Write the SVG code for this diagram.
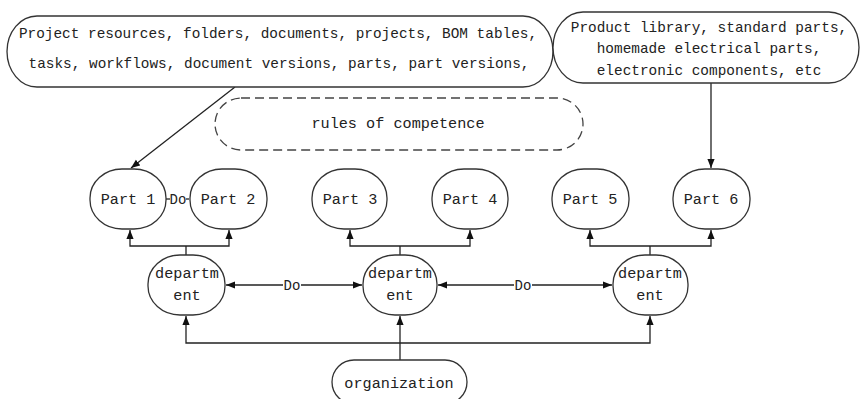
<svg xmlns="http://www.w3.org/2000/svg" width="861" height="399" viewBox="0 0 861 399">
<defs>
<marker id="ah" viewBox="0 0 10 10" refX="10" refY="5" markerWidth="9" markerHeight="9" markerUnits="userSpaceOnUse" orient="auto-start-reverse">
<path d="M0,1 L10,5 L0,9 z" fill="#111"/>
</marker>
</defs>
<style>
.n{fill:#fff;stroke:#333;stroke-width:1.3}
.d{fill:none;stroke:#444;stroke-width:1.3;stroke-dasharray:9,5}
.t{font-family:"Liberation Mono","DejaVu Sans Mono",monospace;font-size:15.2px;fill:#222;text-anchor:middle}
.b{font-family:"Liberation Mono","DejaVu Sans Mono",monospace;font-size:14.4px;fill:#222;text-anchor:middle}
.c{fill:none;stroke:#222;stroke-width:1.3}
.a{marker-end:url(#ah)}
.ab{marker-start:url(#ah);marker-end:url(#ah)}
.lb{font-family:"Liberation Mono","DejaVu Sans Mono",monospace;font-size:14px;fill:#222;text-anchor:middle}
</style>
<rect width="861" height="399" fill="#fff"/>
<g id="connectors">
<path class="c a" d="M235,87 L131,168"/>
<path class="c a" d="M711,83 L711,168"/>
<path class="c" d="M166,199 L189,199"/>
<rect x="170" y="191" width="16" height="16" fill="#fff"/>
<text class="lb" x="178" y="204">Do</text>
<path class="c" d="M186,255 L186,246"/>
<path class="c a" d="M186,246 L130,246 L130,230"/>
<path class="c a" d="M186,246 L229,246 L229,230"/>
<path class="c" d="M400,255 L400,246"/>
<path class="c a" d="M400,246 L350,246 L350,230"/>
<path class="c a" d="M400,246 L470,246 L470,230"/>
<path class="c" d="M650,255 L650,246"/>
<path class="c a" d="M650,246 L590,246 L590,230"/>
<path class="c a" d="M650,246 L711,246 L711,230"/>
<path class="c ab" d="M226,285 L362,285"/>
<rect x="283" y="277" width="18" height="16" fill="#fff"/>
<text class="lb" x="292" y="290">Do</text>
<path class="c ab" d="M438,285 L612,285"/>
<rect x="514" y="277" width="18" height="16" fill="#fff"/>
<text class="lb" x="523" y="290">Do</text>
<path class="c a" d="M400,360 L400,316"/>
<path class="c a" d="M400,343 L186,343 L186,316"/>
<path class="c a" d="M400,343 L650,343 L650,316"/>
</g>
<g id="resources">
<rect class="n" x="7" y="16" width="546" height="71" rx="30" ry="35.5"/>
<text class="b" x="278" y="38">Project resources, folders, documents, projects, BOM tables,</text>
<text class="b" x="279" y="68">tasks, workflows, document versions, parts, part versions,</text>
</g>
<g id="library">
<rect class="n" x="553" y="12" width="306" height="71" rx="30" ry="35.5"/>
<text class="b" x="709" y="32">Product library, standard parts,</text>
<text class="b" x="709" y="53">homemade electrical parts,</text>
<text class="b" x="709" y="75">electronic components, etc</text>
</g>
<g id="rules">
<rect class="d" x="215" y="98" width="368" height="52" rx="26" ry="26"/>
<text class="t" x="398" y="128">rules of competence</text>
</g>
<g id="part1">
<rect class="n" x="90" y="169" width="76" height="60" rx="32" ry="29"/>
<text class="t" x="128" y="204">Part 1</text>
</g>
<g id="part2">
<rect class="n" x="190" y="169" width="77" height="60" rx="32" ry="29"/>
<text class="t" x="228" y="204">Part 2</text>
</g>
<g id="part3">
<rect class="n" x="312" y="169" width="75" height="60" rx="32" ry="29"/>
<text class="t" x="350" y="204">Part 3</text>
</g>
<g id="part4">
<rect class="n" x="432" y="169" width="76" height="60" rx="32" ry="29"/>
<text class="t" x="470" y="204">Part 4</text>
</g>
<g id="part5">
<rect class="n" x="552" y="169" width="77" height="60" rx="32" ry="29"/>
<text class="t" x="590" y="204">Part 5</text>
</g>
<g id="part6">
<rect class="n" x="673" y="169" width="77" height="60" rx="32" ry="29"/>
<text class="t" x="711" y="204">Part 6</text>
</g>
<g id="dept1">
<rect class="n" x="148" y="255" width="77" height="60" rx="32" ry="29"/>
<text class="t" x="187" y="278">departm</text>
<text class="t" x="187" y="300">ent</text>
</g>
<g id="dept2">
<rect class="n" x="363" y="255" width="74" height="60" rx="32" ry="29"/>
<text class="t" x="400" y="278">departm</text>
<text class="t" x="400" y="300">ent</text>
</g>
<g id="dept3">
<rect class="n" x="613" y="255" width="75" height="60" rx="32" ry="29"/>
<text class="t" x="650" y="278">departm</text>
<text class="t" x="650" y="300">ent</text>
</g>
<g id="organization">
<rect class="n" x="332" y="360" width="135" height="44" rx="22" ry="22"/>
<text class="t" x="399" y="388">organization</text>
</g>
</svg>
